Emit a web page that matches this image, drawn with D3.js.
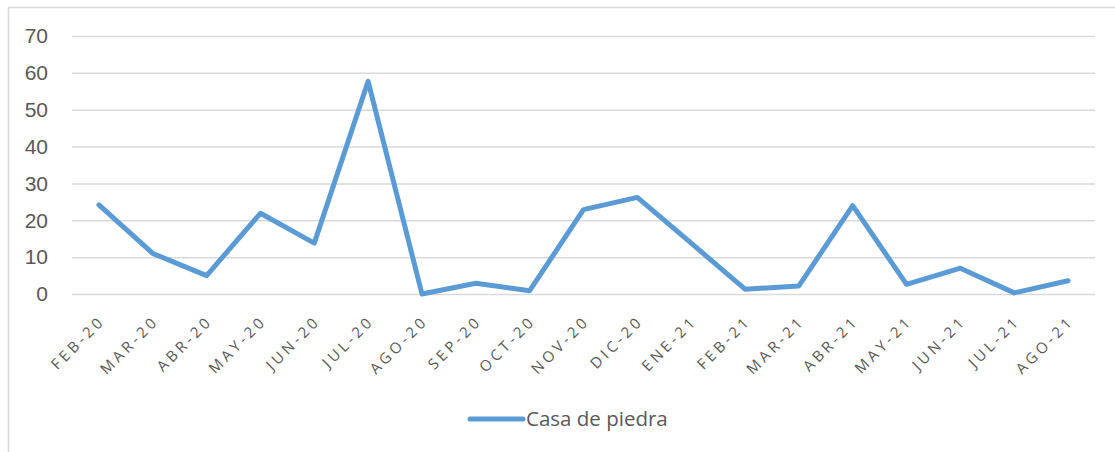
<!DOCTYPE html>
<html>
<head>
<meta charset="utf-8">
<script src="https://cdn.jsdelivr.net/npm/d3@7"></script>
<style>
  body { margin: 0; background: #fff; }
  svg { display: block; font-family: "Open Sans", sans-serif; }
</style>
</head>
<body>
<div id="chart"></div>
<script>
// months on the x axis
var months = ["FEB-20", "MAR-20", "ABR-20", "MAY-20", "JUN-20", "JUL-20", "AGO-20",
	"SEP-20", "OCT-20", "NOV-20", "DIC-20", "ENE-21", "FEB-21", "MAR-21",
	"ABR-21", "MAY-21", "JUN-21", "JUL-21", "AGO-21"];
// values
var casaDePiedra = [24.2, 11, 5, 21.9, 13.8, 57.7, 0, 2.9, 0.9, 22.9, 26.2, 13.8, 1.3,
	2.2, 24, 2.6, 7, 0.3, 3.6];
var yTicks = [0, 10, 20, 30, 40, 50, 60, 70];
var seriesName = "Casa de piedra";

var width = 1115, height = 452;
var margin = {left: 72, right: 20, top: 36, bottom: 158};

var svg = d3.select("#chart").append("svg")
	.attr("width", width)
	.attr("height", height);

// outer chart frame (cut off at right and bottom)
svg.append("path")
	.attr("d", "M8.5," + height + "V7.5H" + width)
	.style("fill", "none")
	.style("stroke", "#d9d9d9")
	.style("stroke-width", 1.5);

var x = d3.scaleBand()
	.domain(months)
	.range([margin.left, width - margin.right]);

var y = d3.scaleLinear()
	.domain([0, 70])
	.range([height - margin.bottom, margin.top]);

// gridlines + y labels
var yAxis = d3.axisLeft(y)
	.tickValues(yTicks)
	.tickSize(-(width - margin.right - margin.left))
	.tickPadding(24);

var gy = svg.append("g")
	.attr("transform", "translate(" + margin.left + ",0)")
	.call(yAxis);
gy.select(".domain").remove();
gy.selectAll(".tick line")
	.style("stroke", "#d9d9d9")
	.style("stroke-width", 1.5);
gy.selectAll(".tick text")
	.style("font-size", "21px")
	.style("fill", "#595959");

// x labels, rotated
svg.append("g").selectAll("text")
	.data(months)
	.join("text")
	.attr("transform", function(d) {
		return "translate(" + (x(d) + x.bandwidth() / 2 + 7) + "," + (y(0) + 28) + ") rotate(-45)";
	})
	.attr("text-anchor", "end")
	.style("font-size", "15px")
	.style("letter-spacing", "3.5px")
	.style("fill", "#595959")
	.text(function(d) { return d; });

// the series line
var line = d3.line()
	.x(function(d, i) { return x(months[i]) + x.bandwidth() / 2; })
	.y(function(d) { return y(d); });

svg.append("path")
	.datum(casaDePiedra)
	.attr("d", line)
	.style("fill", "none")
	.style("stroke", "#5b9bd5")
	.style("stroke-width", 5)
	.style("stroke-linejoin", "round")
	.style("stroke-linecap", "round");

// legend
var legend = svg.append("g").attr("transform", "translate(468,419)");
legend.append("line")
	.attr("x1", 2).attr("x2", 55)
	.style("stroke", "#5b9bd5")
	.style("stroke-width", 5)
	.style("stroke-linecap", "round");
legend.append("text")
	.attr("x", 58)
	.attr("dy", "0.35em")
	.style("font-size", "20.5px")
	.style("fill", "#595959")
	.text(seriesName);
</script>
</body>
</html>
